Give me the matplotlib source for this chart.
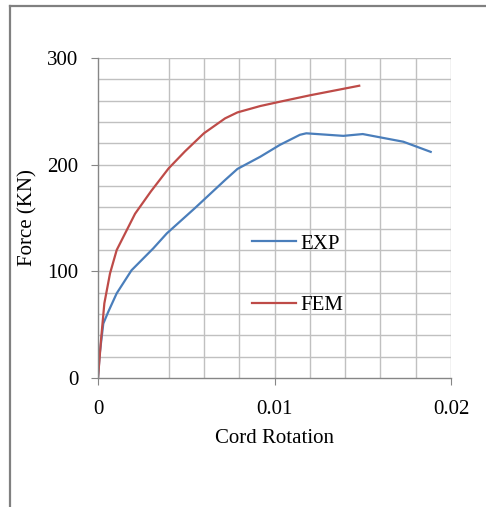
import numpy as np
import matplotlib.pyplot as plt
from matplotlib.lines import Line2D

# EXP (test) curve
exp_rot = [0, 0.0001, 0.0003, 0.00058, 0.00106, 0.0019, 0.00313, 0.0039, 0.0055,
           0.0072, 0.0079, 0.0092, 0.0103, 0.01144, 0.0118, 0.0139,
           0.0150, 0.0173, 0.01885]
exp_force = [0, 23, 51, 62, 79.4, 101, 121.5, 135.6, 159.4,
             185.6, 196, 207.5, 218.5, 228, 229.4, 227,
             228.7, 221.5, 212]

# FEM curve
fem_rot = [0, 0.00017, 0.00036, 0.00068, 0.00106, 0.0021, 0.003, 0.004, 0.00493,
           0.006, 0.0072, 0.0079, 0.0092, 0.0103, 0.012, 0.0148]
fem_force = [0, 35.6, 70, 98, 120, 154, 175, 196.5, 212.5,
             229.4, 243.4, 249, 255, 259, 265, 274]

xticks = [0, 0.01, 0.02]
xtick_labels = ['0', '0.01', '0.02']
yticks = [0, 100, 200, 300]
xgrid = [0.004, 0.006, 0.008, 0.010, 0.012, 0.014, 0.016, 0.018, 0.020]
ygrid = np.arange(20, 301, 20)

plt.rcParams['font.family'] = 'Liberation Serif'

fig = plt.figure(figsize=(4.86, 5.07), dpi=100)
ax = fig.add_axes([98/486, 1-378/507, 353/486, 320/507])

for g in xgrid:
    ax.axvline(g, color='#c0c0c0', lw=1, zorder=0)
for g in ygrid:
    ax.axhline(g, color='#c0c0c0', lw=1, zorder=0)

ax.plot(exp_rot, exp_force, color='#4a7ebb', lw=1.6, label='EXP')
ax.plot(fem_rot, fem_force, color='#be4b48', lw=1.6, label='FEM')

ax.set_xlim(0, 0.02)
ax.set_ylim(0, 300)
ax.set_xticks(xticks)
ax.set_xticklabels(xtick_labels)
ax.set_yticks(yticks)
for s in ['top', 'right']:
    ax.spines[s].set_visible(False)
for s in ['left', 'bottom']:
    ax.spines[s].set_color('#868686')
    ax.spines[s].set_linewidth(1)
ax.tick_params(axis='both', colors='#868686', labelcolor='black', labelsize=15, length=5)
ax.tick_params(axis='x', pad=11)
ax.tick_params(axis='y', pad=9)

ax.set_xlabel('Cord Rotation', fontsize=15, labelpad=7)
ax.set_ylabel('Force (KN)', fontsize=15)
ax.yaxis.set_label_coords(-61/353, 0.5)

ax.legend(loc='upper left', bbox_to_anchor=(154/353, 144/320), frameon=False,
          fontsize=15, handlelength=2.1, handletextpad=0.2, labelspacing=2.0,
          borderaxespad=0, borderpad=0)

# outer frame (left and top edges visible)
fig.add_artist(Line2D([10/486, 10/486], [0, 1-6/507], color='#808080', lw=1.6))
fig.add_artist(Line2D([10/486, 1], [1-6/507, 1-6/507], color='#808080', lw=1.6))

fig.savefig('out.png', dpi=100)
